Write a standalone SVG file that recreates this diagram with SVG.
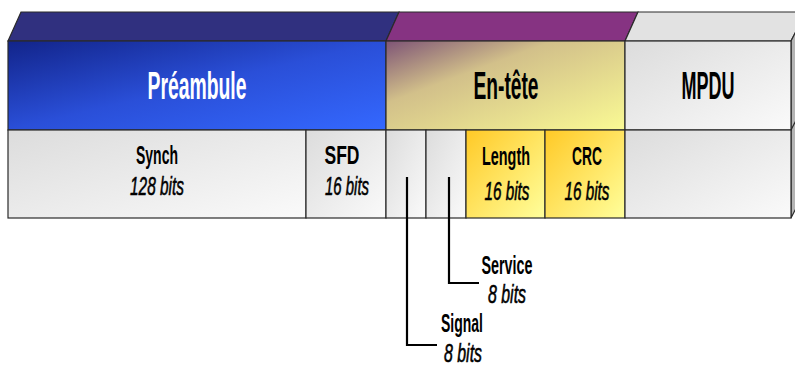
<svg xmlns="http://www.w3.org/2000/svg" width="795" height="367" viewBox="0 0 795 367">
<defs>
<linearGradient id="gBlue" x1="0" y1="0" x2="1" y2="1"><stop offset="0" stop-color="#12248a"/><stop offset="0.5" stop-color="#2a4fd8"/><stop offset="1" stop-color="#3468ff"/></linearGradient>
<linearGradient id="gHead" x1="0" y1="0" x2="1" y2="1"><stop offset="0" stop-color="#7e5476"/><stop offset="0.35" stop-color="#d2c08a"/><stop offset="1" stop-color="#fafa94"/></linearGradient>
<linearGradient id="gGray" x1="0" y1="0" x2="1" y2="1"><stop offset="0" stop-color="#dcdcdc"/><stop offset="1" stop-color="#fafafa"/></linearGradient>
<linearGradient id="gYel" x1="0" y1="0" x2="1" y2="1"><stop offset="0" stop-color="#ffc926"/><stop offset="1" stop-color="#ffff9c"/></linearGradient>
</defs>
<style>
.edge{stroke:#2a2a2a;stroke-width:1.2}
.t{font-family:"Liberation Sans",Arial,sans-serif;font-weight:bold;text-anchor:middle}
.big{font-size:38px}
.lb{font-size:25px;fill:#000}
.it{font-size:26px;font-style:italic;font-weight:normal;fill:#000;stroke:#000;stroke-width:0.6}
.conn{stroke:#000;stroke-width:2.2;fill:none}
</style>
<g id="faces">
<polygon points="8,41 21,12 399,12 386,41" fill="#30307f" class="edge"/>
<polygon points="386,41 399,12 638,12 625,41" fill="#863382" class="edge"/>
<polygon points="625,41 638,12 806,12 791,41" fill="#e2e2e2" class="edge"/>
<polygon points="791,41 806,12 806,189 791,218" fill="#b4b4b4" class="edge"/>
<line x1="791" y1="130" x2="806" y2="101" class="edge"/>
</g>
<g id="preambule">
<rect x="8" y="41" width="378" height="89" fill="url(#gBlue)" class="edge"/>
<text class="t big" x="197" y="99" fill="#fff" textLength="99" lengthAdjust="spacingAndGlyphs">Préambule</text>
</g>
<g id="entete">
<rect x="386" y="41" width="239" height="89" fill="url(#gHead)" class="edge"/>
<text class="t big" x="506" y="99" fill="#000" textLength="65" lengthAdjust="spacingAndGlyphs">En-tête</text>
</g>
<g id="mpdu">
<rect x="625" y="41" width="166" height="89" fill="url(#gGray)" class="edge"/>
<text class="t big" x="708" y="99" fill="#000" textLength="53" lengthAdjust="spacingAndGlyphs">MPDU</text>
</g>
<g id="synch">
<rect x="8" y="130" width="298" height="88" fill="url(#gGray)" class="edge"/>
<text class="t lb" x="157" y="164" textLength="42" lengthAdjust="spacingAndGlyphs">Synch</text>
<text class="t it" x="157" y="195" textLength="54" lengthAdjust="spacingAndGlyphs">128 bits</text>
</g>
<g id="sfd">
<rect x="306" y="130" width="80" height="88" fill="url(#gGray)" class="edge"/>
<text class="t lb" x="342" y="164" textLength="35" lengthAdjust="spacingAndGlyphs">SFD</text>
<text class="t it" x="347" y="195" textLength="44" lengthAdjust="spacingAndGlyphs">16 bits</text>
</g>
<g id="signal">
<rect x="386" y="130" width="40" height="88" fill="url(#gGray)" class="edge"/>
<text class="t lb" x="462" y="332" textLength="42" lengthAdjust="spacingAndGlyphs">Signal</text>
<text class="t it" x="463" y="362" textLength="38" lengthAdjust="spacingAndGlyphs">8 bits</text>
</g>
<g id="service">
<rect x="426" y="130" width="40" height="88" fill="url(#gGray)" class="edge"/>
<text class="t lb" x="507" y="274" textLength="51" lengthAdjust="spacingAndGlyphs">Service</text>
<text class="t it" x="507" y="303" textLength="38" lengthAdjust="spacingAndGlyphs">8 bits</text>
</g>
<g id="length">
<rect x="466" y="130" width="79" height="88" fill="url(#gYel)" class="edge"/>
<text class="t lb" x="506" y="165" textLength="48" lengthAdjust="spacingAndGlyphs">Length</text>
<text class="t it" x="507" y="200" textLength="45" lengthAdjust="spacingAndGlyphs">16 bits</text>
</g>
<g id="crc">
<rect x="545" y="130" width="80" height="88" fill="url(#gYel)" class="edge"/>
<text class="t lb" x="587" y="165" textLength="30" lengthAdjust="spacingAndGlyphs">CRC</text>
<text class="t it" x="587" y="200" textLength="45" lengthAdjust="spacingAndGlyphs">16 bits</text>
</g>
<g id="mpdu-body">
<rect x="625" y="130" width="166" height="88" fill="url(#gGray)" class="edge"/>
</g>
<g id="connectors">
<polyline points="407,177 407,345 437,345" class="conn"/>
<polyline points="449,177 449,283 479,283" class="conn"/>
</g>
</svg>
